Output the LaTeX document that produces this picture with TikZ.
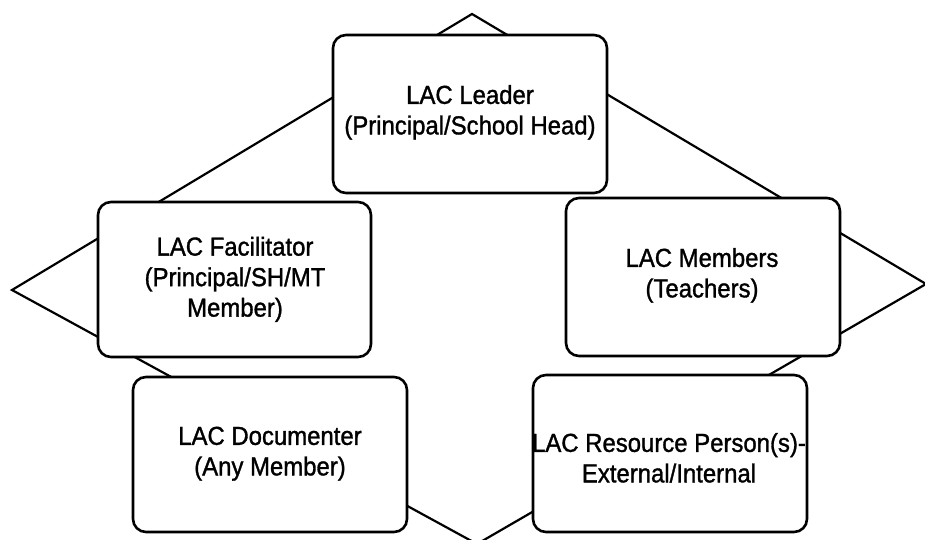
\documentclass[tikz,border=0pt]{standalone}
\usepackage{fontspec}
\setmainfont{Liberation Sans}
\newfontfamily\lblfont{Liberation Sans}[FakeBold=1.3]
\newcommand{\lbltext}[1]{\scalebox{0.92}[1]{\begin{tabular}{@{}c@{}}#1\end{tabular}}}
\begin{document}
\begin{tikzpicture}[x=1pt,y=-1pt,
  box/.style={draw=black, line width=2.6pt, fill=white, rounded corners=13pt, inner sep=0pt},
  lbl/.style={font=\lblfont\fontsize{26}{30.5}\selectfont, inner sep=0pt},
  edge/.style={draw=black, line width=2.2pt, line join=miter}]
\useasboundingbox (0,0) rectangle (925,540);
\clip (0,0) rectangle (925,540);
\fill[white] (0,0) rectangle (925,540);
\coordinate (T) at (472,14);
\coordinate (R) at (926,284);
\coordinate (B) at (477,544);
\coordinate (L) at (12,290);
\draw[edge] (T) -- (R) -- (B) -- (L) -- cycle;
\node[box, minimum width=274pt, minimum height=158pt] (lead) at (470,114) {};
\node[box, minimum width=273pt, minimum height=155pt] (fac) at (234.5,279.5) {};
\node[box, minimum width=274pt, minimum height=158pt] (mem) at (703,277) {};
\node[box, minimum width=274pt, minimum height=155pt] (doc) at (270,454.5) {};
\node[box, minimum width=274pt, minimum height=157pt] (res) at (670,453.5) {};
\node[lbl] (leadt) at (470,113) {\lbltext{LAC Leader\\(Principal/School Head)}};
\node[lbl] (fact) at (235,280) {\lbltext{LAC Facilitator\\(Principal/SH/MT\\Member)}};
\node[lbl] (memt) at (702,276) {\lbltext{LAC Members\\(Teachers)}};
\node[lbl] (doct) at (270,454) {\lbltext{LAC Documenter\\(Any Member)}};
\node[lbl] (rest) at (669,461) {\lbltext{LAC Resource Person(s)-\\External/Internal}};
\end{tikzpicture}
\end{document}
